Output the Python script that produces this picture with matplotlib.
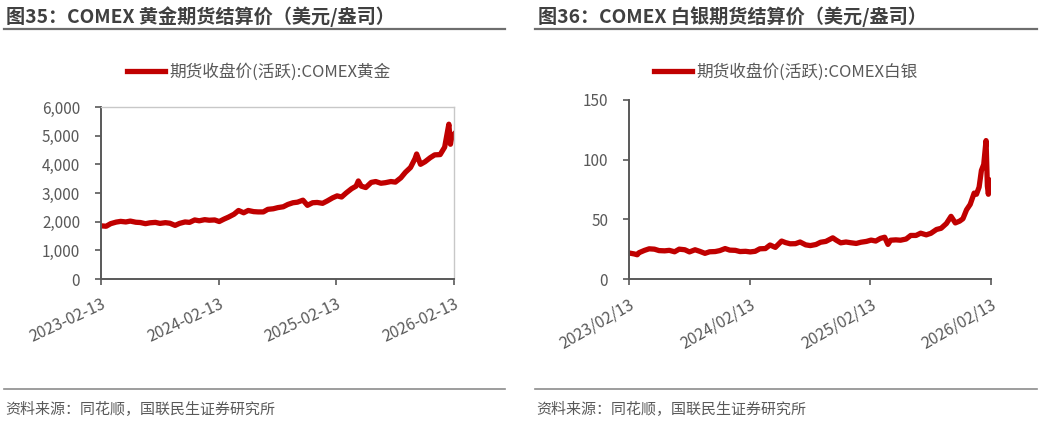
import numpy as np
import pandas as pd
import matplotlib
matplotlib.use("Agg")
import matplotlib.pyplot as plt
import matplotlib.dates as mdates
from matplotlib.ticker import FuncFormatter

plt.rcParams['font.family'] = ['Noto Sans CJK SC', 'DejaVu Sans']

# gold, semi-monthly readings
gold_dates = [
    "2023-02-13", "2023-03-01", "2023-03-15", "2023-04-01", "2023-04-15", "2023-05-01",
    "2023-05-15", "2023-06-01", "2023-06-15", "2023-07-01", "2023-07-15", "2023-08-01",
    "2023-08-15", "2023-09-01", "2023-09-15", "2023-10-01", "2023-10-15", "2023-11-01",
    "2023-11-15", "2023-12-01", "2023-12-15", "2024-01-01", "2024-01-15", "2024-02-01",
    "2024-02-15", "2024-03-01", "2024-03-15", "2024-04-01", "2024-04-15", "2024-05-01",
    "2024-05-15", "2024-06-01", "2024-06-15", "2024-07-01", "2024-07-15", "2024-08-01",
    "2024-08-15", "2024-09-01", "2024-09-15", "2024-10-01", "2024-10-15", "2024-11-01",
    "2024-11-15", "2024-12-01", "2024-12-15", "2025-01-01", "2025-01-15", "2025-02-01",
    "2025-02-15", "2025-03-01", "2025-03-15", "2025-04-01", "2025-04-15", "2025-04-22",
    "2025-05-01", "2025-05-15", "2025-06-01", "2025-06-15", "2025-07-01", "2025-07-15",
    "2025-08-01", "2025-08-15", "2025-09-01", "2025-09-15", "2025-10-01", "2025-10-15",
    "2025-10-20", "2025-11-01", "2025-11-15", "2025-12-01", "2025-12-15", "2026-01-01",
    "2026-01-15", "2026-01-28", "2026-02-02", "2026-02-06", "2026-02-13",
]
gold_vals = [
    1855, 1840, 1930, 1985, 2010, 1990,
    2020, 1980, 1970, 1930, 1960, 1975,
    1940, 1965, 1945, 1870, 1940, 1990,
    1975, 2060, 2030, 2070, 2050, 2060,
    2005, 2090, 2160, 2260, 2390, 2310,
    2390, 2350, 2340, 2340, 2430, 2450,
    2490, 2520, 2600, 2660, 2680, 2750,
    2570, 2660, 2670, 2640, 2720, 2830,
    2900, 2860, 3000, 3150, 3240, 3420,
    3240, 3190, 3370, 3400, 3340, 3360,
    3400, 3380, 3530, 3720, 3890, 4200,
    4360, 4000, 4090, 4230, 4330, 4340,
    4600, 5400, 4700, 4950, 5050,
]

silver_dates = [
    "2023-02-13", "2023-03-01", "2023-03-10", "2023-03-15", "2023-04-01", "2023-04-15",
    "2023-05-01", "2023-05-15", "2023-06-01", "2023-06-15", "2023-07-01", "2023-07-15",
    "2023-08-01", "2023-08-15", "2023-09-01", "2023-09-15", "2023-10-01", "2023-10-15",
    "2023-11-01", "2023-11-15", "2023-12-01", "2023-12-15", "2024-01-01", "2024-01-15",
    "2024-02-01", "2024-02-15", "2024-03-01", "2024-03-15", "2024-04-01", "2024-04-15",
    "2024-05-01", "2024-05-20", "2024-06-01", "2024-06-15", "2024-07-01", "2024-07-15",
    "2024-08-01", "2024-08-15", "2024-09-01", "2024-09-15", "2024-10-01", "2024-10-22",
    "2024-11-01", "2024-11-15", "2024-12-01", "2024-12-15", "2025-01-01", "2025-01-15",
    "2025-02-01", "2025-02-15", "2025-03-01", "2025-03-15", "2025-03-28", "2025-04-07",
    "2025-04-15", "2025-05-01", "2025-05-15", "2025-06-01", "2025-06-15", "2025-07-01",
    "2025-07-15", "2025-08-01", "2025-08-15", "2025-09-01", "2025-09-15", "2025-10-01",
    "2025-10-15", "2025-10-28", "2025-11-10", "2025-11-20", "2025-12-01", "2025-12-12",
    "2025-12-24", "2025-12-31", "2026-01-08", "2026-01-15", "2026-01-22", "2026-01-29",
    "2026-02-02", "2026-02-05", "2026-02-09", "2026-02-13",
]
silver_vals = [
    21.8, 21.0, 20.3, 22.0, 24.0, 25.3,
    25.0, 23.8, 23.6, 24.0, 22.8, 25.0,
    24.5, 22.7, 24.5, 23.2, 21.5, 22.8,
    23.0, 23.8, 25.5, 24.2, 24.0, 23.0,
    23.2, 22.7, 23.2, 25.3, 25.5, 28.5,
    26.5, 31.8, 30.5, 29.5, 29.6, 31.0,
    28.6, 28.0, 28.9, 30.8, 31.5, 34.5,
    32.6, 30.3, 31.0, 30.4, 29.8, 30.8,
    31.5, 32.6, 31.8, 34.0, 35.0, 29.0,
    32.5, 32.8, 32.5, 33.5, 36.5, 36.5,
    38.4, 37.0, 38.3, 41.5, 42.5, 46.5,
    52.5, 47.0, 48.5, 50.5, 58.0, 62.5,
    72.0, 71.0, 77.0, 91.0, 96.0, 116.0,
    78.0, 71.0, 83.0, 80.0,
]

gold_ticks = ["2023-02-13", "2024-02-13", "2025-02-13", "2026-02-13"]
gold_yticks = [0, 1000, 2000, 3000, 4000, 5000, 6000]
silver_yticks = [0, 50, 100, 150]

titles = ["图35：COMEX 黄金期货结算价（美元/盎司）", "图36：COMEX 白银期货结算价（美元/盎司）"]
legend_labels = ["期货收盘价(活跃):COMEX黄金", "期货收盘价(活跃):COMEX白银"]
source = "资料来源：同花顺，国联民生证券研究所"

W, H = 1041, 422
RED = "#C00000"
DARK = "#595959"
TXT = "#404040"

fig = plt.figure(figsize=(W / 100, H / 100), dpi=100)


def fx(px):
    return px / W


def fy(py):
    return 1 - py / H


def panel(x0, x1, y_top, y_bot, dates, vals, yticks, ylim, tick_fmt, rot, frame,
          title, leg, title_x, line_x0, line_x1, leg_x):
    ax = fig.add_axes([fx(x0), fy(y_bot), fx(x1 - x0), fy(y_top) - fy(y_bot)])
    d = pd.to_datetime(dates)
    ax.plot(d, vals, color=RED, lw=3.8, solid_joinstyle="round", label=leg)
    t = pd.to_datetime(gold_ticks)
    ax.set_xlim(t[0], t[-1])
    ax.set_ylim(*ylim)
    ax.set_yticks(yticks)
    ax.yaxis.set_major_formatter(FuncFormatter(lambda v, p: f"{int(v):,}"))
    ax.set_xticks(t)
    ax.set_xticklabels([x.strftime(tick_fmt) for x in t], rotation=rot,
                       ha="right", va="top", rotation_mode="anchor")
    ax.tick_params(axis="both", colors=DARK, labelcolor=DARK, labelsize=11,
                   length=4, width=1.2, direction="out")
    ax.tick_params(axis="x", pad=8, labelsize=11.5)
    ax.tick_params(axis="y", pad=11)
    for s in ("left", "bottom"):
        ax.spines[s].set_color(DARK)
        ax.spines[s].set_linewidth(1.4)
    if frame:
        for s in ("top", "right"):
            ax.spines[s].set_color("#C8C8C8")
            ax.spines[s].set_linewidth(1.0)
    else:
        ax.spines["top"].set_visible(False)
        ax.spines["right"].set_visible(False)
    ax.legend(loc="center left", bbox_to_anchor=(fx(leg_x), fy(72)),
              bbox_transform=fig.transFigure, frameon=False, fontsize=12,
              handlelength=2.25, handletextpad=0.28, borderpad=0, borderaxespad=0,
              labelcolor=DARK)
    fig.text(fx(title_x), fy(17), title, fontsize=13.8, fontweight="bold",
             color=TXT, va="center", ha="left")
    fig.lines.append(plt.Line2D([fx(line_x0), fx(line_x1)], [fy(29), fy(29)],
                                transform=fig.transFigure, color="#6E6E6E", lw=1.6))
    fig.lines.append(plt.Line2D([fx(line_x0), fx(line_x1)], [fy(389), fy(389)],
                                transform=fig.transFigure, color="#8C8C8C", lw=1.2))
    fig.text(fx(line_x0 + 1), fy(410), source, fontsize=10.8, color=DARK,
             va="center", ha="left")
    return ax


panel(101, 454, 107, 279, gold_dates, gold_vals, gold_yticks, (0, 6000), "%Y-%m-%d", 25,
      True, titles[0], legend_labels[0], 6, 4, 505, 127)
panel(629, 991, 100, 279, silver_dates, silver_vals, silver_yticks, (0, 150), "%Y/%m/%d", 30,
      False, titles[1], legend_labels[1], 538, 535, 1037, 654)

fig.savefig("out.png", dpi=100)
